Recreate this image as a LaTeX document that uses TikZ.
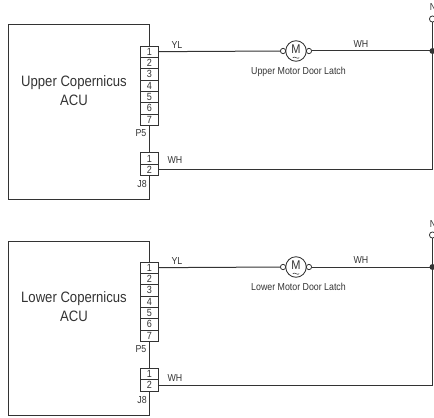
\documentclass[tikz,border=0pt]{standalone}
\usepackage{fontspec}
\setmainfont[FakeStretch=0.87]{Liberation Sans}
\usetikzlibrary{positioning}
\definecolor{inkgray}{gray}{0.2}
\newcommand{\motortilde}[1]{\draw [draw=inkgray, line width=0.4pt] ([xshift=-2.4pt, yshift=-5pt]#1.center) .. controls +(0.8pt,1.6pt) and +(-0.8pt,-1.6pt) .. ([xshift=2.4pt, yshift=-5pt]#1.center);}
\tikzset{
    acubox/.style={draw=inkgray, line width=0.75pt, minimum width=106.1pt, minimum height=130.5pt, inner sep=0pt, outer sep=0pt},
    acutext/.style={align=center, text=inkgray, font=\fontsize{11.3pt}{14.2pt}\selectfont},
    pinbox/.style={draw=inkgray, fill=white, line width=0.75pt, minimum width=14.2pt, minimum height=8.5pt, inner sep=0pt, outer sep=0pt, text=inkgray, font=\fontsize{7.8pt}{8pt}\selectfont},
    wirelabel/.style={inner sep=0pt, text=inkgray, font=\fontsize{7.6pt}{8pt}\selectfont},
    wire/.style={draw=inkgray, line width=0.75pt},
    motor/.style={draw=inkgray, circle, line width=0.65pt, fill=white, minimum size=15.4pt, inner sep=0pt, outer sep=0pt, text=inkgray, text depth=2.2pt, font=\fontsize{9.5pt}{9.5pt}\selectfont},
    terminal/.style={draw=inkgray, circle, line width=0.6pt, fill=white, minimum size=4pt, inner sep=0pt, outer sep=0pt},
    junction/.style={circle, fill=inkgray, minimum size=4.5pt, inner sep=0pt, outer sep=0pt},
}
\begin{document}
\begin{tikzpicture}[x=0.75pt, y=-0.75pt]
    \clip (0,0) rectangle (434,417);

    % Upper ACU
    \node [acubox] (upper_acu) at (78.75,112) {};
    \node [acutext] (upper_name) at (74,90.5) {Upper Copernicus\\ACU};

    % Upper P5
    \node [pinbox] (upper_p1) at (149.5,51.7) {1};
    \node [pinbox, below=0pt of upper_p1] (upper_p2) {2};
    \node [pinbox, below=0pt of upper_p2] (upper_p3) {3};
    \node [pinbox, below=0pt of upper_p3] (upper_p4) {4};
    \node [pinbox, below=0pt of upper_p4] (upper_p5) {5};
    \node [pinbox, below=0pt of upper_p5] (upper_p6) {6};
    \node [pinbox, below=0pt of upper_p6] (upper_p7) {7};
    \node [wirelabel] (upper_p5name) at (141,133) {P5};

    % Upper J8
    \node [pinbox] (upper_j1) at (149.5,158.5) {1};
    \node [pinbox, below=0pt of upper_j1] (upper_j2) {2};
    \node [wirelabel] (upper_j8name) at (142,184) {J8};

    % Upper motor
    \node [motor] (upper_motor) at (296,51) {M};
    \motortilde{upper_motor}
    \node [terminal, left=0pt of upper_motor] (upper_in) {};
    \node [terminal, right=0pt of upper_motor] (upper_out) {};
    \node [wirelabel] (upper_latch) at (298.5,72) {Upper Motor Door Latch};

    % Upper wires
    \node [junction] (upper_dot) at (432.5,51) {};
    \node [terminal, minimum size=4.6pt] (upper_net) at (432.5,19) {};
    \node [wirelabel, anchor=west] (upper_netname) at (429.5,7) {N};
    \draw [wire] (upper_p1) -- (upper_in);
    \draw [wire] (upper_out) -- (upper_dot);
    \draw [wire] (upper_net) -- (upper_dot);
    \draw [wire] (upper_dot) |- (upper_j2);
    \node [wirelabel] (upper_yl) at (177,45) {YL};
    \node [wirelabel] (upper_wh) at (361,44) {WH};
    \node [wirelabel] (upper_jwh) at (175,160) {WH};

    % Lower ACU
    \node [acubox] (lower_acu) at (78.75,328.5) {};
    \node [acutext] (lower_name) at (74,306.5) {Lower Copernicus\\ACU};

    % Lower P5
    \node [pinbox] (lower_p1) at (149.5,267.7) {1};
    \node [pinbox, below=0pt of lower_p1] (lower_p2) {2};
    \node [pinbox, below=0pt of lower_p2] (lower_p3) {3};
    \node [pinbox, below=0pt of lower_p3] (lower_p4) {4};
    \node [pinbox, below=0pt of lower_p4] (lower_p5) {5};
    \node [pinbox, below=0pt of lower_p5] (lower_p6) {6};
    \node [pinbox, below=0pt of lower_p6] (lower_p7) {7};
    \node [wirelabel] (lower_p5name) at (141,349) {P5};

    % Lower J8
    \node [pinbox] (lower_j1) at (149.5,374) {1};
    \node [pinbox, below=0pt of lower_j1] (lower_j2) {2};
    \node [wirelabel] (lower_j8name) at (142,400.5) {J8};

    % Lower motor
    \node [motor] (lower_motor) at (296,267) {M};
    \motortilde{lower_motor}
    \node [terminal, left=0pt of lower_motor] (lower_in) {};
    \node [terminal, right=0pt of lower_motor] (lower_out) {};
    \node [wirelabel] (lower_latch) at (298.5,287) {Lower Motor Door Latch};

    % Lower wires
    \node [junction] (lower_dot) at (432.5,267) {};
    \node [terminal, minimum size=4.6pt] (lower_net) at (432.5,235) {};
    \node [wirelabel, anchor=west] (lower_netname) at (429.5,224) {N};
    \draw [wire] (lower_p1) -- (lower_in);
    \draw [wire] (lower_out) -- (lower_dot);
    \draw [wire] (lower_net) -- (lower_dot);
    \draw [wire] (lower_dot) |- (lower_j2);
    \node [wirelabel] (lower_yl) at (177,261) {YL};
    \node [wirelabel] (lower_wh) at (361,260) {WH};
    \node [wirelabel] (lower_jwh) at (175,378) {WH};
\end{tikzpicture}
\end{document}
